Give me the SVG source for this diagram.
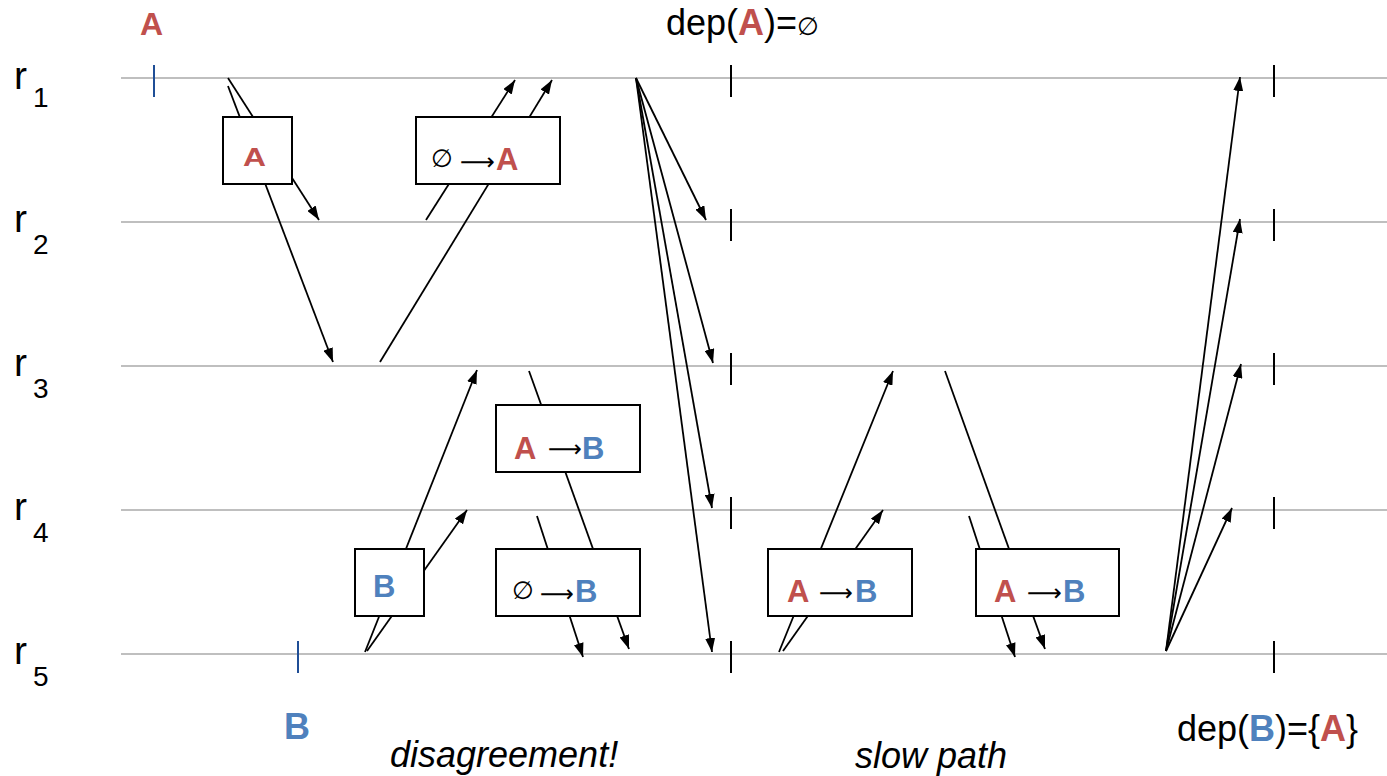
<svg xmlns="http://www.w3.org/2000/svg" width="1387" height="776" viewBox="0 0 1387 776">
  <style>
    .lane { stroke: #bfbfbf; stroke-width: 2; fill: none; }
    .tick { stroke: #000; stroke-width: 2; }
    .otick { stroke: #1f4e96; stroke-width: 2; }
    .msg { stroke: #000; stroke-width: 1.8; fill: none; marker-end: url(#head); }
    .box { fill: #fff; stroke: #000; stroke-width: 2; }
    .t { font-family: "Liberation Sans", Arial, sans-serif; fill: #000; }
    .lbl { font-family: "Liberation Sans", Arial, sans-serif; font-weight: bold; }
    .red { fill: #c0504d; }
    .blue { fill: #4f81bd; }
    .sym { font-family: "DejaVu Sans", sans-serif; fill: #000; }
    .it { font-family: "Liberation Sans", Arial, sans-serif; font-style: italic; font-size: 36px; fill: #000; }
  </style>
  <defs>
    <marker id="head" markerUnits="userSpaceOnUse" markerWidth="14" markerHeight="10" refX="14" refY="5" orient="auto">
      <path d="M0,0 L14,5 L0,10 z" fill="#000"/>
    </marker>
  </defs>

  <!-- replica lanes -->
  <g id="lanes">
    <line class="lane" x1="121" y1="78" x2="1387" y2="78"/>
    <line class="lane" x1="121" y1="222" x2="1387" y2="222"/>
    <line class="lane" x1="121" y1="366" x2="1387" y2="366"/>
    <line class="lane" x1="121" y1="510" x2="1387" y2="510"/>
    <line class="lane" x1="121" y1="654" x2="1387" y2="654"/>
  </g>

  <g id="lane-labels" class="t">
    <text x="14" y="89" font-size="39">r</text><text x="33" y="107" font-size="28">1</text>
    <text x="14" y="232" font-size="39">r</text><text x="33" y="254" font-size="28">2</text>
    <text x="14" y="376" font-size="39">r</text><text x="33" y="398" font-size="28">3</text>
    <text x="14" y="520" font-size="39">r</text><text x="33" y="542" font-size="28">4</text>
    <text x="14" y="664" font-size="39">r</text><text x="33" y="686" font-size="28">5</text>
  </g>

  <!-- phase boundaries -->
  <g id="ticks">
    <line class="otick" x1="154" y1="65" x2="154" y2="97"/>
    <line class="otick" x1="298" y1="641" x2="298" y2="673"/>
    <line class="tick" x1="731" y1="65" x2="731" y2="97"/>
    <line class="tick" x1="731" y1="209" x2="731" y2="241"/>
    <line class="tick" x1="731" y1="353" x2="731" y2="385"/>
    <line class="tick" x1="731" y1="497" x2="731" y2="529"/>
    <line class="tick" x1="731" y1="641" x2="731" y2="673"/>
    <line class="tick" x1="1274" y1="65" x2="1274" y2="97"/>
    <line class="tick" x1="1274" y1="209" x2="1274" y2="241"/>
    <line class="tick" x1="1274" y1="353" x2="1274" y2="385"/>
    <line class="tick" x1="1274" y1="497" x2="1274" y2="529"/>
    <line class="tick" x1="1274" y1="641" x2="1274" y2="673"/>
  </g>

  <!-- messages -->
  <g id="connectors">
    <line class="msg" x1="228" y1="78" x2="319" y2="220"/>
    <line class="msg" x1="228" y1="86" x2="333" y2="362"/>
    <line class="msg" x1="426" y1="220" x2="515" y2="80"/>
    <line class="msg" x1="380" y1="362" x2="552" y2="80"/>
    <line class="msg" x1="636" y1="78" x2="706" y2="220"/>
    <line class="msg" x1="636" y1="78" x2="713" y2="363"/>
    <line class="msg" x1="636" y1="78" x2="712" y2="508"/>
    <line class="msg" x1="636" y1="78" x2="712" y2="652"/>
    <line class="msg" x1="365" y1="652" x2="477" y2="370"/>
    <line class="msg" x1="367" y1="651" x2="467" y2="510"/>
    <line class="msg" x1="529" y1="371" x2="629" y2="649"/>
    <line class="msg" x1="537" y1="516" x2="583" y2="657"/>
    <line class="msg" x1="779" y1="652" x2="893" y2="371"/>
    <line class="msg" x1="783" y1="651" x2="883" y2="510"/>
    <line class="msg" x1="945" y1="371" x2="1045" y2="649"/>
    <line class="msg" x1="969" y1="516" x2="1015" y2="657"/>
    <line class="msg" x1="1166" y1="651" x2="1240" y2="77"/>
    <line class="msg" x1="1166" y1="651" x2="1240" y2="219"/>
    <line class="msg" x1="1166" y1="651" x2="1241" y2="364"/>
    <line class="msg" x1="1166" y1="651" x2="1232" y2="508"/>
  </g>

  <!-- command boxes -->
  <g id="box-a">
    <rect class="box" x="223" y="117" width="69" height="67"/>
    <text class="lbl red" x="243" y="166" font-size="25" textLength="23" lengthAdjust="spacingAndGlyphs">A</text>
  </g>
  <g id="box-none-a">
    <rect class="box" x="416" y="117" width="144" height="67"/>
    <text class="sym" x="431" y="167" font-size="25">∅</text>
    <text class="sym" x="460" y="170" font-size="24" textLength="35" lengthAdjust="spacingAndGlyphs">⟶</text>
    <text class="lbl red" x="496" y="170" font-size="31">A</text>
  </g>
  <g id="box-a-b-r3">
    <rect class="box" x="496" y="405" width="144" height="67"/>
    <text class="lbl red" x="514" y="459" font-size="31">A</text>
    <text class="sym" x="548" y="457" font-size="24" textLength="34" lengthAdjust="spacingAndGlyphs">⟶</text>
    <text class="lbl blue" x="582" y="459" font-size="31">B</text>
  </g>
  <g id="box-b">
    <rect class="box" x="355" y="549" width="69" height="67"/>
    <text class="lbl blue" x="373" y="597" font-size="31">B</text>
  </g>
  <g id="box-none-b">
    <rect class="box" x="496" y="549" width="144" height="67"/>
    <text class="sym" x="512" y="599" font-size="25">∅</text>
    <text class="sym" x="540" y="602" font-size="24" textLength="34" lengthAdjust="spacingAndGlyphs">⟶</text>
    <text class="lbl blue" x="575" y="602" font-size="31">B</text>
  </g>
  <g id="box-slow-1">
    <rect class="box" x="768" y="549" width="144" height="67"/>
    <text class="lbl red" x="787" y="602" font-size="31">A</text>
    <text class="sym" x="819" y="601" font-size="24" textLength="34" lengthAdjust="spacingAndGlyphs">⟶</text>
    <text class="lbl blue" x="855" y="602" font-size="31">B</text>
  </g>
  <g id="box-slow-2">
    <rect class="box" x="976" y="549" width="143" height="67"/>
    <text class="lbl red" x="994" y="602" font-size="31">A</text>
    <text class="sym" x="1027" y="601" font-size="24" textLength="35" lengthAdjust="spacingAndGlyphs">⟶</text>
    <text class="lbl blue" x="1063" y="602" font-size="31">B</text>
  </g>

  <!-- annotations -->
  <g id="labels">
    <text class="lbl red" x="140" y="35" font-size="32">A</text>
    <text class="lbl blue" x="284" y="739" font-size="36">B</text>
    <text class="t" x="666" y="35" font-size="36">dep(<tspan class="lbl red">A</tspan>)=<tspan class="sym" font-size="25">∅</tspan></text>
    <text class="t" x="1177" y="741" font-size="36">dep(<tspan class="lbl blue">B</tspan>)={<tspan class="lbl red">A</tspan>}</text>
    <text class="it" x="390" y="767">disagreement!</text>
    <text class="it" x="855" y="768">slow path</text>
  </g>
</svg>
